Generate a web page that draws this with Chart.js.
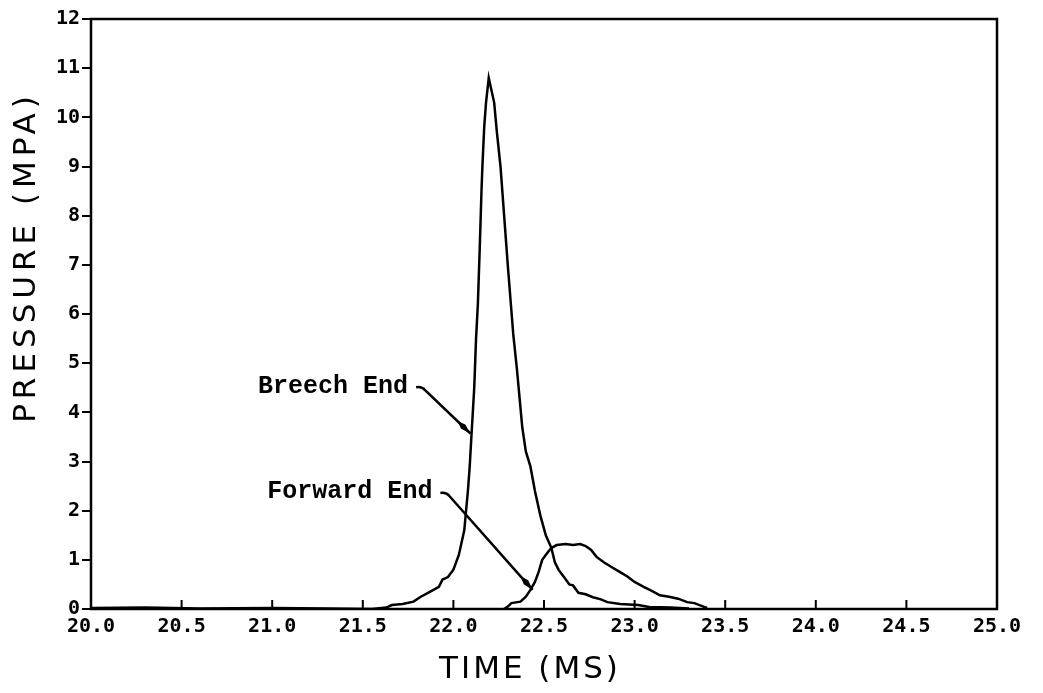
<!DOCTYPE html>
<html>
<head>
    <title>Pressure vs Time</title>
    <script src="https://cdn.jsdelivr.net/npm/chart.js"></script>
    <style>
        body { margin: 0; background: #fff; }
        .wrap { width: 1043px; height: 693px; }
    </style>
</head>
<body>
<div class="wrap">
    <canvas id="pressureChart" width="1043" height="693"></canvas>
</div>
<script>
// breech end trace (time ms, pressure MPa)
const breechT = [20.0, 20.3, 20.6, 21.0, 21.3, 21.55, 21.63, 21.66, 21.72, 21.78, 21.82, 21.87, 21.92, 21.94, 21.97,
    22.0, 22.03, 22.06, 22.08, 22.09, 22.10, 22.115, 22.125, 22.135, 22.145, 22.155, 22.16, 22.17, 22.18, 22.195,
    22.21, 22.225, 22.24, 22.26, 22.28, 22.30, 22.315, 22.33, 22.35, 22.38, 22.40, 22.425, 22.45, 22.48, 22.51,
    22.54, 22.56, 22.58, 22.61, 22.64, 22.66, 22.69, 22.73, 22.77, 22.81, 22.85, 22.92, 23.02, 23.08, 23.2, 23.3];
const breechP = [0.02, 0.03, 0.01, 0.02, 0.01, 0.0, 0.03, 0.08, 0.1, 0.15, 0.25, 0.35, 0.45, 0.6, 0.65,
    0.8, 1.1, 1.6, 2.4, 2.9, 3.55, 4.5, 5.5, 6.2, 7.3, 8.5, 9.0, 9.8, 10.3, 10.8,
    10.55, 10.3, 9.7, 9.0, 8.0, 7.0, 6.3, 5.6, 4.9, 3.7, 3.2, 2.9, 2.4, 1.9, 1.5,
    1.25, 0.95, 0.8, 0.65, 0.5, 0.48, 0.33, 0.3, 0.24, 0.2, 0.14, 0.1, 0.08, 0.04, 0.03, 0.01];

// forward end trace
const forwardT = [22.28, 22.30, 22.32, 22.37, 22.40, 22.425, 22.45, 22.47, 22.49, 22.52, 22.54, 22.57, 22.62, 22.66,
    22.70, 22.73, 22.76, 22.79, 22.83, 22.87, 22.92, 22.96, 23.0, 23.05, 23.10, 23.14, 23.19, 23.24, 23.29, 23.33, 23.38, 23.40];
const forwardP = [0.0, 0.05, 0.12, 0.15, 0.25, 0.39, 0.55, 0.75, 1.0, 1.15, 1.24, 1.3, 1.32, 1.3,
    1.32, 1.28, 1.2, 1.06, 0.95, 0.86, 0.75, 0.66, 0.55, 0.45, 0.36, 0.28, 0.25, 0.21, 0.14, 0.12, 0.05, 0.02];

// axis ranges / labels
const xTicks = [20.0, 20.5, 21.0, 21.5, 22.0, 22.5, 23.0, 23.5, 24.0, 24.5, 25.0];
const yTicks = [0, 1, 2, 3, 4, 5, 6, 7, 8, 9, 10, 11, 12];
const xTitle = 'TIME (MS)';
const yTitle = 'PRESSURE (MPA)';

// label text, text anchor (right end, data units), arrow tip (data units)
const notes = [
    { text: 'Breech End', at: [21.75, 4.53], tip: [22.094, 3.57] },
    { text: 'Forward End', at: [21.884, 2.38], tip: [22.437, 0.39] }
];

const toXY = (t, p) => t.map((v, i) => ({ x: v, y: p[i] }));

// frame, inward x ticks, notes and axis titles
const decor = {
    id: 'decor',
    beforeDatasetsDraw(chart) {
        const { ctx, chartArea: a, scales: { x } } = chart;
        ctx.save();
        ctx.strokeStyle = '#000';
        ctx.lineWidth = 2.5;
        ctx.strokeRect(a.left, a.top, a.right - a.left, a.bottom - a.top);
        ctx.lineWidth = 2;
        xTicks.forEach(v => {
            const px = x.getPixelForValue(v);
            ctx.beginPath();
            ctx.moveTo(px, a.bottom);
            ctx.lineTo(px, a.bottom - 9);
            ctx.stroke();
        });
        ctx.restore();
    },
    afterDraw(chart) {
        const { ctx, chartArea: a, scales: { x, y } } = chart;
        ctx.save();
        ctx.fillStyle = '#000';
        ctx.strokeStyle = '#000';

        notes.forEach(n => {
            const tx = x.getPixelForValue(n.at[0]);
            const ty = y.getPixelForValue(n.at[1]);
            ctx.font = 'bold 25px "Liberation Mono", monospace';
            ctx.textAlign = 'right';
            ctx.textBaseline = 'middle';
            ctx.fillText(n.text, tx, ty);

            const ex = x.getPixelForValue(n.tip[0]);
            const ey = y.getPixelForValue(n.tip[1]);
            const sx = tx + 8, sy = ty + 1;
            ctx.lineWidth = 2.5;
            ctx.beginPath();
            ctx.moveTo(sx, sy);
            ctx.quadraticCurveTo(sx + 6, sy - 1, sx + 9, sy + 3);
            ctx.lineTo(ex, ey);
            ctx.stroke();
            // arrow head: narrow spindle just before the tip
            const ang = Math.atan2(ey - (sy + 3), ex - (sx + 9));
            const c = Math.cos(ang), s = Math.sin(ang);
            ctx.beginPath();
            ctx.moveTo(ex, ey);
            ctx.lineTo(ex - 10 * c + 3 * s, ey - 10 * s - 3 * c);
            ctx.lineTo(ex - 18 * c, ey - 18 * s);
            ctx.lineTo(ex - 10 * c - 3 * s, ey - 10 * s + 3 * c);
            ctx.closePath();
            ctx.fill();
        });

        ctx.font = '31px "DejaVu Sans", sans-serif';
        ctx.textAlign = 'center';
        ctx.textBaseline = 'middle';
        ctx.letterSpacing = '3px';
        ctx.fillText(xTitle, (a.left + a.right) / 2 - 14, 670);

        ctx.letterSpacing = '5px';
        ctx.translate(27, (a.top + a.bottom) / 2 - 57);
        ctx.rotate(-Math.PI / 2);
        ctx.fillText(yTitle, 0, 0);
        ctx.restore();
    }
};

window.onload = () => {
    new Chart(document.getElementById('pressureChart').getContext('2d'), {
        type: 'line',
        data: {
            datasets: [{
                label: 'Breech End',
                data: toXY(breechT, breechP),
                borderColor: '#000',
                borderWidth: 2.5,
                pointRadius: 0,
                tension: 0
            }, {
                label: 'Forward End',
                data: toXY(forwardT, forwardP),
                borderColor: '#000',
                borderWidth: 2.5,
                pointRadius: 0,
                tension: 0
            }]
        },
        options: {
            responsive: false,
            animation: false,
            layout: { padding: { left: 0, right: 46, top: 19, bottom: 0 } },
            plugins: {
                legend: { display: false },
                tooltip: { enabled: false }
            },
            scales: {
                x: {
                    type: 'linear',
                    min: 20, max: 25,
                    afterBuildTicks: s => { s.ticks = xTicks.map(v => ({ value: v })); },
                    afterFit: s => { s.height = 84; },
                    grid: { drawOnChartArea: false, drawTicks: false },
                    border: { display: false },
                    ticks: {
                        padding: 6,
                        color: '#000',
                        font: { family: '"DejaVu Sans Mono", monospace', size: 20, weight: 'bold' },
                        callback: v => v.toFixed(1),
                        maxRotation: 0
                    }
                },
                y: {
                    min: 0, max: 12,
                    afterBuildTicks: s => { s.ticks = yTicks.map(v => ({ value: v })); },
                    afterFit: s => { s.width = 91; },
                    grid: { drawOnChartArea: false, drawTicks: true, tickLength: 9, color: '#000', lineWidth: 2 },
                    border: { display: false },
                    ticks: {
                        padding: 2,
                        color: '#000',
                        font: { family: '"DejaVu Sans Mono", monospace', size: 20, weight: 'bold' }
                    }
                }
            }
        },
        plugins: [decor]
    });
};
</script>
</body>
</html>
